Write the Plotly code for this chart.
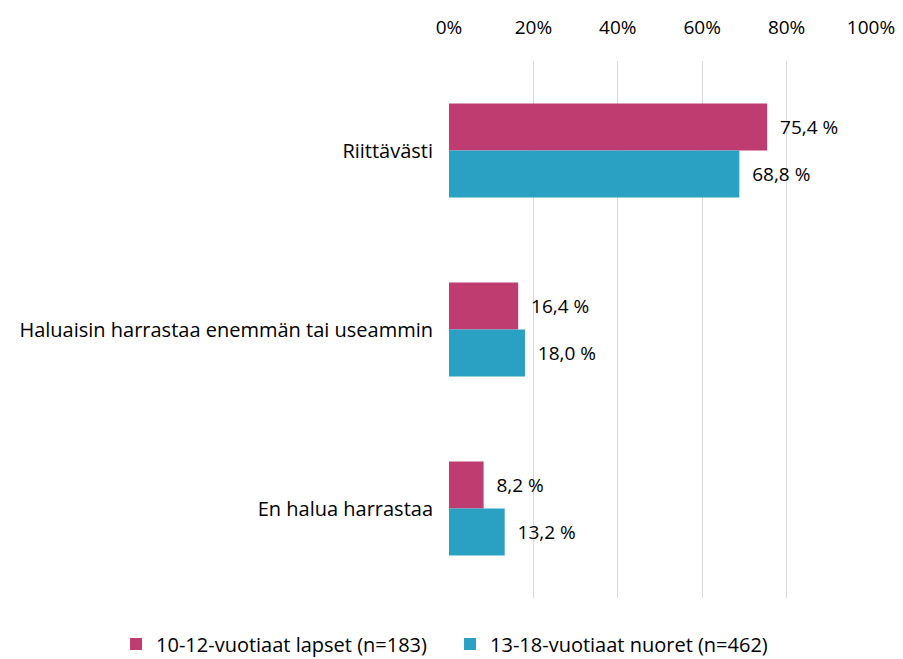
import plotly.graph_objects as go

categories = ["Riittävästi", "Haluaisin harrastaa enemmän tai useammin", "En halua harrastaa"]
series_names = ["10-12-vuotiaat lapset (n=183)", "13-18-vuotiaat nuoret (n=462)"]
children = [75.4, 16.4, 8.2]
youth = [68.8, 18.0, 13.2]
colors = ["#BE3C6F", "#2AA0C3"]
tick_vals = [0, 20, 40, 60, 80, 100]
tick_text = ["0%", "20%", "40%", "60%", "80%", "100%"]

def fmt(v):
    return "  " + f"{v:.1f}".replace(".", ",") + " %"

fig = go.Figure()
for name, vals, col, lg in zip(series_names, [children, youth], colors, ["legend", "legend2"]):
    fig.add_trace(go.Bar(
        y=categories, x=vals, name=name, orientation="h",
        marker=dict(color=col, line=dict(width=0)),
        text=[fmt(v) for v in vals], textposition="outside",
        textfont=dict(size=19, color="#000000"), cliponaxis=False,
        legend=lg,
    ))

legend_common = dict(orientation="h", xref="container", xanchor="left",
                     yref="container", y=0.053, yanchor="top",
                     font=dict(size=20), bgcolor="rgba(0,0,0,0)")

# page body has an 8px margin, so the figure is 8px smaller and offset
fig.update_layout(
    width=895, height=651,
    barmode="group", bargap=0.475, bargroupgap=0,
    paper_bgcolor="white", plot_bgcolor="white",
    font=dict(family="Open Sans, sans-serif", size=20, color="#000000"),
    margin=dict(l=441, r=32, t=53, b=61),
    xaxis=dict(side="top", range=[0, 100], tickvals=tick_vals, ticktext=tick_text,
               tickfont=dict(size=19),
               showgrid=True, gridcolor="#D9D9D9", gridwidth=1, zeroline=False,
               showline=False, ticks="", ticklabelstandoff=22, fixedrange=True,
               automargin=False),
    yaxis=dict(autorange="reversed", showgrid=False, ticks="", showline=False,
               tickfont=dict(size=20),
               ticklabelstandoff=15, fixedrange=True, automargin=False),
    legend=dict(x=0.1207, **legend_common),
    legend2=dict(x=0.4939, **legend_common),
    showlegend=True,
)

fig.write_html("out.html")
